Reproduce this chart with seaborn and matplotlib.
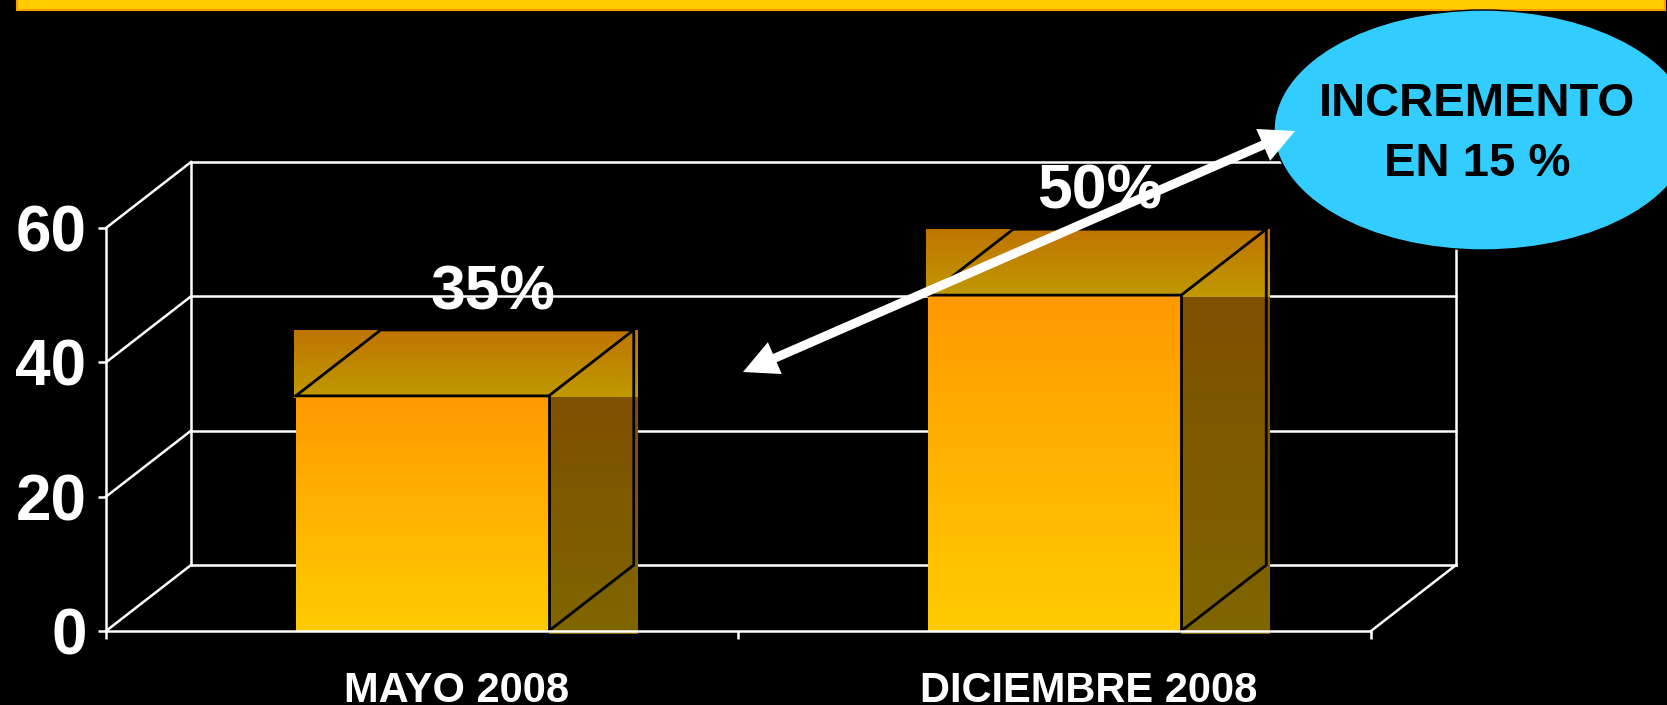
import numpy as np
import matplotlib
matplotlib.use('Agg')
import matplotlib.pyplot as plt
import matplotlib.transforms as mtransforms
from matplotlib.colors import LinearSegmentedColormap
from matplotlib.patches import Ellipse, Rectangle, FancyArrowPatch
import seaborn as sns

# !! Datos !!
categorias = ['MAYO 2008', 'DICIEMBRE 2008']
valores = [35, 50]
etiquetas = ['35%', '50%']
ticks_y = [0, 20, 40, 60]
texto_globo = 'INCREMENTO\nEN 15 %'

sns.set_style('ticks')
plt.rcParams['font.family'] = ['Liberation Sans', 'DejaVu Sans']
plt.rcParams['font.weight'] = 'bold'

W, H = 1667, 705
fig = plt.figure(figsize=(W / 100, H / 100), dpi=100, facecolor='black')

# profundidad del efecto 3D (en unidades de datos)
prof_x = 0.1344
prof_y = 9.82
y_max = ticks_y[-1]
x_izq, x_der = -0.5, len(categorias) - 0.5

ax = fig.add_axes([106 / W, 74 / H, 1350 / W, 469 / H])
ax.set_facecolor('black')

sns.barplot(x=categorias, y=valores, width=0.4, color='#FFB000',
            errorbar=None, ax=ax, zorder=3)

# !! Paredes y grilla en perspectiva !!
linea = dict(color='white', lw=1.8, zorder=1, clip_on=False, solid_capstyle='projecting')
for v in ticks_y:
    ax.plot([x_izq + prof_x, x_der + prof_x], [v + prof_y] * 2, **linea)
    ax.plot([x_izq, x_izq + prof_x], [v, v + prof_y], **linea)
ax.plot([x_izq + prof_x] * 2, [prof_y, y_max + prof_y], **linea)
ax.plot([x_der + prof_x] * 2, [prof_y, y_max + prof_y], **linea)
ax.plot([x_der, x_der + prof_x], [0, prof_y], **linea)

# !! Barras con degradado y caras 3D !!
g = np.linspace(0, 1, 256).reshape(-1, 1)
grad_frente = LinearSegmentedColormap.from_list('frente', ['#FFCC00', '#FF9900'])
grad_tapa = LinearSegmentedColormap.from_list('tapa', ['#C09A00', '#BF7400'])
grad_lado = LinearSegmentedColormap.from_list('lado', ['#806600', '#7F5000'])

borde = dict(color='black', lw=2, zorder=4, clip_on=False)
for bar in ax.patches:
    x0 = bar.get_x()
    x1 = x0 + bar.get_width()
    h = bar.get_height()
    ax.imshow(g, cmap=grad_tapa, origin='lower', aspect='auto', interpolation='bilinear',
              extent=(x0 - 0.003, x1 + prof_x + 0.005, h - 0.3, h + prof_y), zorder=2.9)
    lado = ax.imshow(g, cmap=grad_lado, origin='lower', aspect='auto', interpolation='bilinear',
                     extent=(x1, x1 + prof_x + 0.005, -0.45, h - 0.3), zorder=3.1)
    lado.set_clip_on(False)
    frente = ax.imshow(g, cmap=grad_frente, origin='lower', aspect='auto', interpolation='bilinear',
                       extent=(x0, x1, 0, h), zorder=3)
    frente.set_clip_path(bar)
    bar.set_facecolor('none')
    bar.set_edgecolor('none')
    ax.plot([x0, x1, x1 + prof_x, x0 + prof_x, x0], [h, h, h + prof_y, h + prof_y, h], **borde)
    ax.plot([x1, x1], [0, h], **borde)
    ax.plot([x1, x1 + prof_x, x1 + prof_x], [0, prof_y, h + prof_y], **borde)

# etiquetas de valor
desp_x = [51, 32]
for bar, txt, dx in zip(ax.patches, etiquetas, desp_x):
    ax.annotate(txt, (bar.get_x() + bar.get_width() / 2, bar.get_height()),
                xytext=(dx, 74), textcoords='offset points', ha='center', va='center',
                fontsize=45, fontweight='bold', color='white', zorder=5)

# !! Ejes !!
ax.set_xlim(x_izq, x_der + prof_x)
ax.set_ylim(0, y_max + prof_y)
ax.grid(False)
for s in ['top', 'right']:
    ax.spines[s].set_visible(False)
for s in ['left', 'bottom']:
    ax.spines[s].set_color('white')
    ax.spines[s].set_linewidth(1.8)
    ax.spines[s].set_zorder(5)
ax.spines['left'].set_bounds(0, y_max)
ax.spines['bottom'].set_bounds(x_izq, x_der)

ax.set_yticks(ticks_y)
ax.set_yticklabels([str(t) for t in ticks_y])
ax.tick_params(axis='y', length=6, width=1.8, color='white', pad=8,
               labelsize=46, labelcolor='white')
ax.set_xticks(np.arange(len(categorias) + 1) - 0.5, minor=True)
ax.tick_params(axis='x', which='major', length=0, pad=29, labelsize=30, labelcolor='white')
ax.tick_params(axis='x', which='minor', length=6, width=1.8, color='white')
for lab in ax.get_yticklabels() + ax.get_xticklabels():
    lab.set_fontweight('bold')
corr = mtransforms.ScaledTranslation(34 / 100, 0, fig.dpi_scale_trans)
for lab in ax.get_xticklabels():
    lab.set_transform(lab.get_transform() + corr)
ax.set_xlabel('')
ax.set_ylabel('')

# !! Barra superior, globo y flecha !!
fig.add_artist(Rectangle((17 / W, 1 - 10 / H), (1665 - 17) / W, 14 / H,
                         transform=fig.transFigure, facecolor='#FFCC00',
                         edgecolor='#FF9900', lw=1.5, zorder=2))
fig.add_artist(Ellipse((1483 / W, 1 - 130 / H), 418 / W, 240 / H, transform=fig.transFigure,
                       facecolor='#33CCFF', edgecolor='black', lw=1, zorder=3))
fig.text(1477 / W, 1 - 134 / H, texto_globo, ha='center', va='center', fontsize=34,
         fontweight='bold', color='black', linespacing=1.45, zorder=4)

p_a = (743 / W, 1 - 372 / H)
p_b = (1295 / W, 1 - 131 / H)
p_m = ((p_a[0] + p_b[0]) / 2, (p_a[1] + p_b[1]) / 2)
for destino in (p_a, p_b):
    fig.add_artist(FancyArrowPatch(p_m, destino, transform=fig.transFigure,
                                   arrowstyle='simple,head_length=2.5,head_width=2.5,tail_width=0.65',
                                   mutation_scale=10, color='white', lw=0,
                                   shrinkA=0, shrinkB=0, zorder=5))

fig.savefig('out.png', dpi=100, facecolor='black')
